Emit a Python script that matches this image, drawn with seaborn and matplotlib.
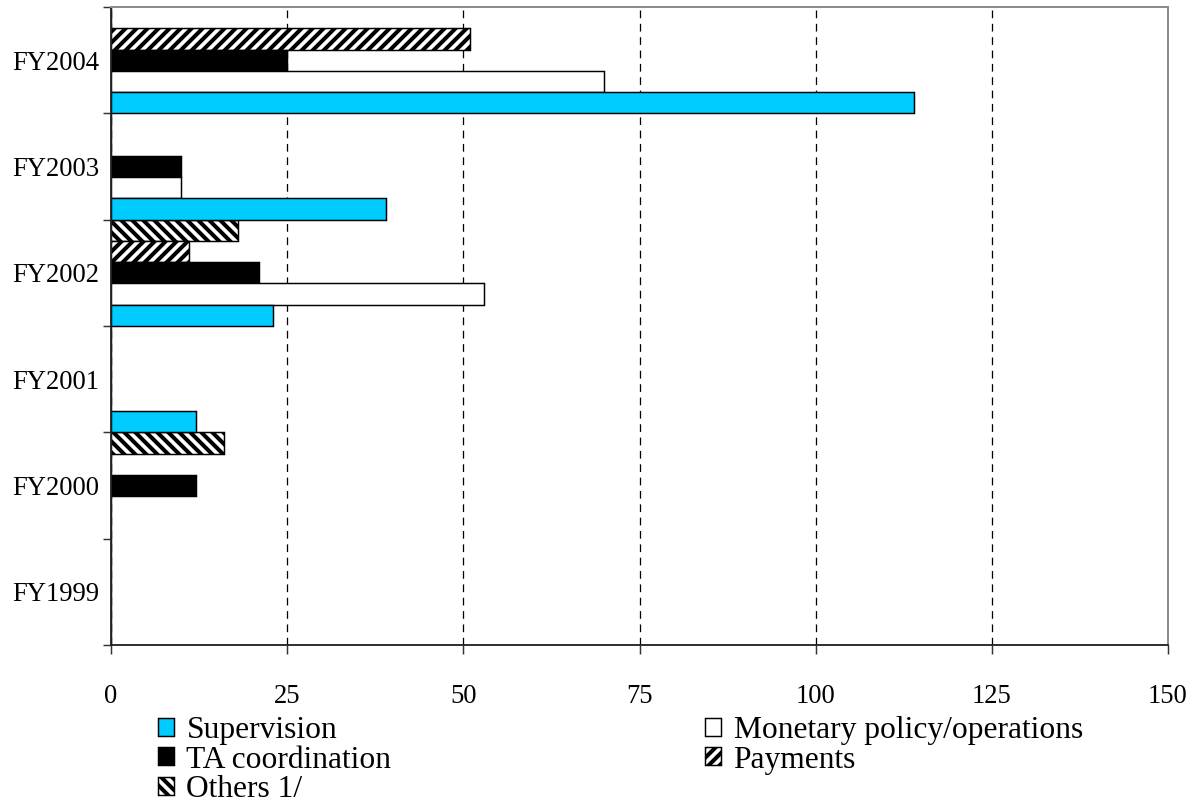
import numpy as np
import pandas as pd
import seaborn as sns
import matplotlib.pyplot as plt
from matplotlib.patches import Patch

# Technical assistance missions by area (number), fiscal years
years = ["FY2004", "FY2003", "FY2002", "FY2001", "FY2000", "FY1999"]
supervision = [114, 39, 23, 12, 0, 0]
monetary = [70, 10, 53, 0, 0, 0]
ta_coordination = [25, 10, 21, 0, 12, 0]
payments = [51, 0, 11, 0, 0, 0]
others = [0, 0, 18, 0, 16, 0]

series_names = ["Supervision", "Monetary policy/operations", "TA coordination",
                "Payments", "Others 1/"]
series_values = [supervision, monetary, ta_coordination, payments, others]
x_ticks = [0, 25, 50, 75, 100, 125, 150]

DPI = 132
sns.set_theme(style="white")
plt.rcParams["font.family"] = ["Liberation Serif", "DejaVu Serif"]
plt.rcParams["text.color"] = "black"
plt.rcParams["hatch.linewidth"] = 2.2

df = pd.DataFrame(
    [(y, name, v) for name, vals in zip(series_names, series_values)
     for y, v in zip(years, vals)],
    columns=["year", "area", "value"],
)

fills = {
    "Supervision": "#00CCFF",
    "Monetary policy/operations": "white",
    "TA coordination": "black",
    "Payments": "white",
    "Others 1/": "white",
}
hatches = {"Payments": "////", "Others 1/": "\\\\\\\\"}
# bottom-to-top stacking inside each year: Supervision lowest, Others on top
draw_order = ["Others 1/", "Payments", "TA coordination",
              "Monetary policy/operations", "Supervision"]

fig = plt.figure(figsize=(1199 / DPI, 803 / DPI), dpi=DPI)
ax = fig.add_axes([111 / 1199, 1 - 645 / 803, (1168 - 111) / 1199, (645 - 7) / 803])

sns.barplot(
    data=df, y="year", x="value", hue="area",
    order=years, hue_order=draw_order, palette=fills,
    orient="h", width=1.0, gap=0, dodge=True, saturation=1,
    edgecolor="black", linewidth=0.8, legend=False, errorbar=None, ax=ax,
)
for name, cont in zip(draw_order, ax.containers):
    if name in hatches:
        for bar in cont:
            bar.set_hatch(hatches[name])

ax.set_xlim(0, 150)
ax.set_ylim(len(years) - 0.5, -0.5)
ax.set_xticks(x_ticks)
ax.set_xlabel("")
ax.set_ylabel("")

ax.set_axisbelow(True)
ax.xaxis.grid(True, linestyle=(0, (6, 4.4)), color="black", linewidth=0.7)
ax.yaxis.grid(False)

for side in ("left", "bottom"):
    ax.spines[side].set_color("#222222")
    ax.spines[side].set_linewidth(1.0)
for side in ("top", "right"):
    ax.spines[side].set_color("#8c8c8c")
    ax.spines[side].set_linewidth(1.1)

ax.set_yticks(np.arange(-0.5, len(years), 1.0), minor=True)
ax.tick_params(axis="y", which="major", length=0, pad=6.5, labelsize=14.5,
               labelcolor="black")
ax.tick_params(axis="y", which="minor", left=True, length=4.4, width=0.8,
               color="#333333", direction="out")
ax.tick_params(axis="x", which="major", bottom=True, length=4.9, width=0.8,
               color="#333333", direction="out", pad=16.5, labelsize=14.5,
               labelcolor="black")

handle_of = {
    name: Patch(facecolor=fills[name], edgecolor="black", linewidth=0.8,
                hatch=hatches.get(name))
    for name in series_names
}
legend_order = ["Supervision", "TA coordination", "Others 1/",
                "Monetary policy/operations", "Payments"]
fig.legend(
    [handle_of[n] for n in legend_order], legend_order,
    ncol=2, loc="upper left",
    bbox_to_anchor=(158 / 1199, 1 - 716 / 803),
    frameon=False, fontsize=17.2, labelcolor="black",
    borderpad=0, borderaxespad=0,
    handlelength=0.5, handleheight=0.5, handletextpad=0.4,
    labelspacing=0.02, columnspacing=9.95,
)

fig.savefig("out.png", dpi=DPI)
